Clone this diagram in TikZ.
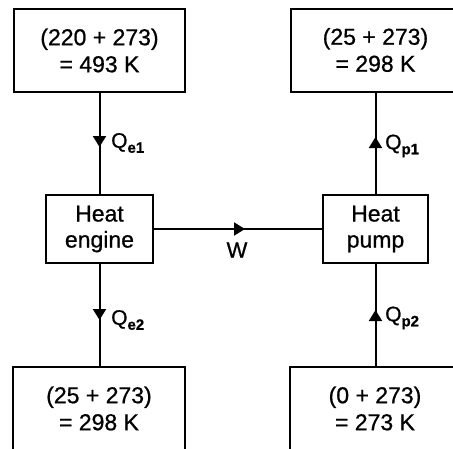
\documentclass[tikz,border=0pt]{standalone}
\usepackage{fontspec}
\setmainfont{Liberation Sans}[FakeBold=0.8]
\usetikzlibrary{arrows.meta,decorations.markings}
\tikzset{
  tbox/.style={draw, line width=2pt, minimum width=171pt, minimum height=83pt, inner sep=0pt, align=center, font=\fontsize{23}{27}\selectfont},
  mbox/.style={draw, line width=2pt, minimum width=107pt, minimum height=68pt, inner sep=0pt, align=center, font=\fontsize{23}{26}\selectfont},
  flow/.style={line width=2pt},
  tip/.style={postaction={decorate, decoration={markings, mark=at position #1 with {\arrow{Triangle[width=13pt,length=11pt]}}}}},
  qlab/.style={anchor=west, inner sep=0pt, font=\fontsize{21}{21}\selectfont},
}
\newcommand{\subs}[1]{\raisebox{-0.45ex}{\fontsize{15}{15}\selectfont\bfseries #1}}
\begin{document}
\begin{tikzpicture}[x=1pt,y=-1pt]
\useasboundingbox (0,0) rectangle (453,448);
\clip (0,0) rectangle (453,448);
\node[tbox] (t1) at (99.5,50.5) {(220 + 273)\\= 493 K};
\node[tbox, minimum width=170pt] (t2) at (375.5,50) {(25 + 273)\\= 298 K};
\node[mbox] (e) at (99.5,229) {Heat\\engine};
\node[mbox, minimum width=105pt] (p) at (375.5,229) {Heat\\pump};
\node[tbox, minimum width=172pt] (b1) at (99,408.5) {(25 + 273)\\= 298 K};
\node[tbox, minimum width=170pt] (b2) at (375,408.5) {(0 + 273)\\= 273 K};
\draw[flow, tip=54pt] (t1.south) -- (e.north);
\draw[flow, tip=56pt] (e.south) -- (b1.north -| e.south);
\draw[flow, tip=57pt] (p.north) -- (t2.south -| p.north);
\draw[flow, tip=56pt] (b2.north -| p.south) -- (p.south);
\draw[flow, tip=91pt] (e.east) -- (p.west);
\node[qlab] (qe1) at (111,143) {Q\subs{e1}};
\node[qlab] (qe2) at (111,320) {Q\subs{e2}};
\node[qlab] (qp1) at (385,146) {Q\subs{p1}};
\node[qlab] (qp2) at (385,318) {Q\subs{p2}};
\node[inner sep=0pt, font=\fontsize{22}{22}\selectfont] (w) at (237,250) {W};
\end{tikzpicture}
\end{document}
